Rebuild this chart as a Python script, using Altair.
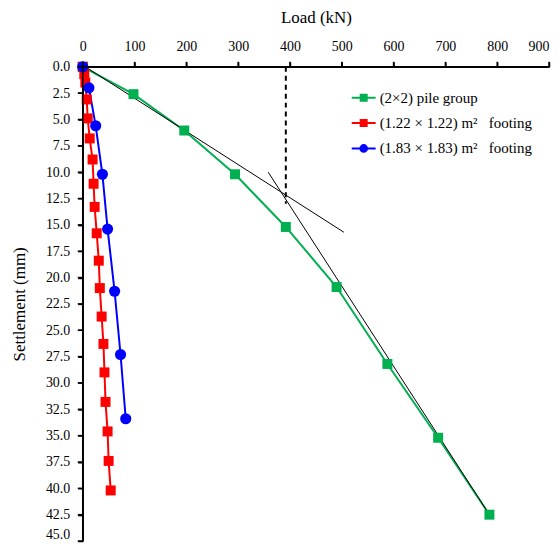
import altair as alt
import pandas as pd

# ---- data ----
series_names = ["(2×2) pile group",
                "(1.22 × 1.22) m²\u00a0\u00a0 footing",
                "(1.83 × 1.83) m²\u00a0\u00a0 footing"]
series_colors = ["#00B050", "#FF0000", "#0000FF"]

pile_load = [0, 98, 196, 294, 392, 490, 588, 686, 785]
pile_settle = [0, 2.6, 6.05, 10.2, 15.2, 20.9, 28.2, 35.2, 42.5]

f122_load = [0, 3, 5, 7.7, 9.6, 13.5, 19, 21, 23, 27, 31, 33, 36.5, 40, 42, 44, 48, 50, 54]
f122_settle = [0, 0.7, 1.5, 3.1, 4.9, 6.8, 8.8, 11.1, 13.3, 15.8, 18.4, 21.0, 23.7, 26.3, 29.0, 31.8, 34.6, 37.4, 40.2]

f183_load = [0, 12, 25, 38, 48, 61.5, 73, 83]
f183_settle = [0, 2.0, 5.6, 10.2, 15.4, 21.3, 27.3, 33.4]

# tangent lines (start/end) and the dashed failure-load marker
tan_id = ["t1", "t1", "t2", "t2"]
tan_load = [5, 504, 358, 785]
tan_settle = [0, 15.7, 10.0, 42.5]
fail_load = [392]
fail_top = [0]
fail_bottom = [13.0]

x_ticks = list(range(0, 901, 100))
y_ticks = [i * 2.5 for i in range(19)]
x_min, x_max = 0, 900
y_min, y_max = 0, 45

legend_paths = [
    "M-1,0L1,0M-0.25,-0.25L0.25,-0.25L0.25,0.25L-0.25,0.25Z",
    "M-1,0L1,0M-0.25,-0.25L0.25,-0.25L0.25,0.25L-0.25,0.25Z",
    "M-1,0L1,0M0.28,0A0.28,0.28 0 1,1 -0.28,0A0.28,0.28 0 1,1 0.28,0Z",
]

rows = []
for name, ld, st in zip(series_names, [pile_load, f122_load, f183_load],
                        [pile_settle, f122_settle, f183_settle]):
    for i, (a, b) in enumerate(zip(ld, st)):
        rows.append({"series": name, "load": a, "settle": b, "order": i})
df = pd.DataFrame(rows)
tan_df = pd.DataFrame({"id": tan_id, "load": tan_load, "settle": tan_settle})
fail_df = pd.DataFrame({"load": fail_load, "settle": fail_top, "bottom": fail_bottom})
# axis lines and tick marks, placed through the scales
xdom_df = pd.DataFrame({"load": [float(x_min)], "load2": [float(x_max)], "settle": [float(y_min)]})
ydom_df = pd.DataFrame({"load": [float(x_min)], "settle": [float(y_min)], "settle2": [float(y_max)]})
xt_df = pd.DataFrame({"load": [float(v) for v in x_ticks], "settle": [float(y_min)] * len(x_ticks)})
yt_df = pd.DataFrame({"load": [float(x_min)] * len(y_ticks), "settle": y_ticks})

FONT = "Liberation Serif"

xscale = alt.Scale(domain=[x_min, x_max], nice=False, zero=False)
yscale = alt.Scale(domain=[y_min, y_max], reverse=True, nice=False)
cscale = alt.Scale(domain=series_names, range=series_colors)

xaxis = alt.Axis(orient="top", title="Load (kN)", values=x_ticks, grid=False,
                 labelOverlap=False, labelPadding=8, titlePadding=13,
                 labelAlign={"condition": {"test": "datum.value >= 900", "value": "right"},
                             "value": "center"})
yaxis = alt.Axis(title="Settlement (mm)", values=y_ticks, format=".1f", grid=False,
                 labelOverlap=False, labelPadding=8, titlePadding=17,
                 labelOffset={"condition": {"test": "datum.value >= 45", "value": -7}, "value": 0})

def X(field="load"):
    return alt.X(field + ":Q", scale=xscale, axis=xaxis)

def Y(field="settle"):
    return alt.Y(field + ":Q", scale=yscale, axis=yaxis)

base = alt.Chart(df)

leg = alt.Legend(title=None, orient="none", legendX=269, legendY=18,
                 labelFont=FONT, labelFontSize=15, labelColor="black",
                 symbolSize=576, symbolStrokeWidth=2, labelLimit=400,
                 rowPadding=4.5, labelOffset=3, padding=0)
# legend-only layer: one tiny (1px) mark per series at the origin, hidden under the markers there
legend_layer = base.transform_filter("datum.order == 0").mark_point(
    filled=True, opacity=1, strokeWidth=0, size=1
).encode(
    x=X(), y=Y(),
    fill=alt.Fill("series:N", scale=cscale, legend=leg),
    stroke=alt.Stroke("series:N", scale=cscale, legend=leg),
    shape=alt.Shape("series:N", scale=alt.Scale(domain=series_names, range=legend_paths), legend=leg),
)

tangents = alt.Chart(tan_df).mark_line(color="black", strokeWidth=1).encode(
    x=X(), y=Y(), detail="id:N")
dashed = alt.Chart(fail_df).mark_rule(color="black", strokeWidth=2, strokeDash=[5, 4]).encode(
    x=X(), y=Y(), y2="bottom:Q")

line_layers, point_layers = [], []
for name, col in zip(series_names, series_colors):
    sub = base.transform_filter(alt.FieldEqualPredicate(field="series", equal=name))
    line_layers.append(sub.mark_line(color=col, strokeWidth=2).encode(
        x=X(), y=Y(), order="order:Q"))
    if name == series_names[2]:
        point_layers.append(sub.mark_circle(color=col, size=125, opacity=1).encode(x=X(), y=Y()))
    else:
        point_layers.append(sub.mark_square(color=col, size=100, opacity=1).encode(x=X(), y=Y()))

# axis frame drawn last, on top of everything
xdom = alt.Chart(xdom_df).mark_rule(color="#000000", strokeWidth=1.5, opacity=1).encode(
    x=X(), x2="load2:Q", y=Y())
ydom = alt.Chart(ydom_df).mark_rule(color="#000000", strokeWidth=1.5, opacity=1).encode(
    x=X(), y=Y(), y2="settle2:Q")
xt = alt.Chart(xt_df).mark_tick(color="#000000", orient="vertical", size=5,
                                thickness=1.5, opacity=1, yOffset=-2.5).encode(x=X(), y=Y())
yt = alt.Chart(yt_df).mark_tick(color="#000000", orient="horizontal", size=5,
                                thickness=1.5, opacity=1, xOffset=-2.5).encode(x=X(), y=Y())

layers = [legend_layer] + line_layers + [tangents, dashed] + point_layers + [xdom, ydom, xt, yt]

chart = alt.layer(*layers).properties(
    width=468, height=476,
    padding={"left": 2, "top": 0, "right": 1, "bottom": 0},
).configure_view(stroke=None).configure_axis(
    labelFont=FONT, titleFont=FONT, labelFontSize=14, titleFontSize=17,
    titleFontWeight="normal", labelColor="black", titleColor="black",
    domainColor="black", tickColor="black", domainWidth=1.5, tickWidth=1.5,
    tickSize=5,
)

chart.save("out.html", embed_options={"renderer": "svg", "actions": False})
